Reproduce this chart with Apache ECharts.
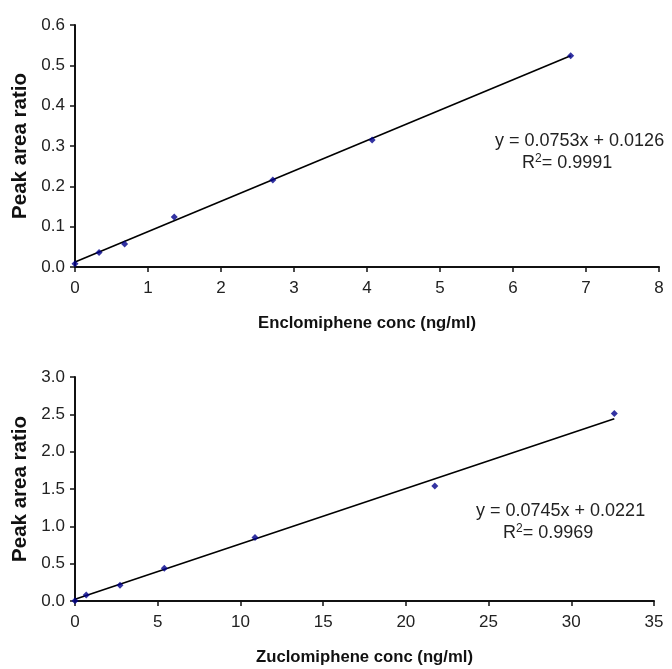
<!DOCTYPE html>
<html><head><meta charset="utf-8">
<script src="https://cdn.jsdelivr.net/npm/echarts@6/dist/echarts.min.js"></script>
<style>html,body{margin:0;padding:0;background:#fff}#c{width:672px;height:669px}</style>
</head><body><div id="c"></div>
<script>
// Top chart: Enclomiphene
const enX = [0, 0.33, 0.68, 1.36, 2.71, 4.07, 6.79];
const enY = [0.008, 0.036, 0.057, 0.124, 0.216, 0.315, 0.524];
const enTrendX = [0, 6.79];
const enTrendY = [0.0126, 0.524];
const enEq = 'y = 0.0753x + 0.0126';
const enR2 = '0.9991';
const enXTicks = [0, 1, 2, 3, 4, 5, 6, 7, 8];
const enYTicks = [0.0, 0.1, 0.2, 0.3, 0.4, 0.5, 0.6];

// Bottom chart: Zuclomiphene
const zuX = [0, 0.68, 2.72, 5.4, 10.88, 21.75, 32.6];
const zuY = [0.005, 0.08, 0.21, 0.437, 0.85, 1.54, 2.51];
const zuTrendX = [0, 32.6];
const zuTrendY = [0.0221, 2.44];
const zuEq = 'y = 0.0745x + 0.0221';
const zuR2 = '0.9969';
const zuXTicks = [0, 5, 10, 15, 20, 25, 30, 35];
const zuYTicks = [0.0, 0.5, 1.0, 1.5, 2.0, 2.5, 3.0];

const FONT = 'Liberation Sans, Arial, sans-serif';
const chart = echarts.init(document.getElementById('c'), null, {renderer: 'canvas'});

function xAxis(idx, ticks, name, gap) {
  return {
    type: 'value', gridIndex: idx, min: ticks[0], max: ticks[ticks.length - 1],
    interval: ticks[1] - ticks[0],
    name: name, nameLocation: 'middle', nameGap: gap,
    nameTextStyle: {fontFamily: FONT, fontSize: 16.7, fontWeight: 'bold', color: '#111'},
    axisLine: {show: true, onZero: false, lineStyle: {color: '#111', width: 2}},
    axisTick: {show: true, inside: false, length: 5, lineStyle: {color: '#111', width: 1.5}},
    axisLabel: {fontFamily: FONT, fontSize: 17, color: '#222', margin: 13},
    splitLine: {show: false}
  };
}
function yAxis(idx, ticks, name) {
  return {
    type: 'value', gridIndex: idx, min: ticks[0], max: ticks[ticks.length - 1],
    interval: Math.round((ticks[1] - ticks[0]) * 10) / 10,
    name: name, nameLocation: 'middle', nameGap: 43, nameRotate: 90,
    nameTextStyle: {fontFamily: FONT, fontSize: 20.5, fontWeight: 'bold', color: '#111'},
    axisLine: {show: true, onZero: false, lineStyle: {color: '#111', width: 2}},
    axisTick: {show: true, inside: false, length: 5, lineStyle: {color: '#111', width: 1.5}},
    axisLabel: {fontFamily: FONT, fontSize: 17, color: '#222', margin: 10,
      formatter: v => v.toFixed(1)},
    splitLine: {show: false}
  };
}
function zip(a, b) { return a.map((v, i) => [v, b[i]]); }

function eqText(left, cy, eq, r2, r2left) {
  return [
    {type: 'text', left: left, top: cy - 10, style: {text: eq, font: '18px ' + FONT, fill: '#222'}},
    {type: 'text', left: r2left, top: cy + 11, style: {
      text: 'R{s|2}= ' + r2, font: '18px ' + FONT, fill: '#222',
      rich: {s: {fontSize: 12, verticalAlign: 'top', padding: [0, 0, 8, 0], fontFamily: FONT}}
    }}
  ];
}

chart.setOption({
  backgroundColor: '#fff',
  animation: false,
  grid: [
    {left: 75, right: 13, top: 25, height: 242},
    {left: 75, right: 18, top: 377, height: 224}
  ],
  xAxis: [xAxis(0, enXTicks, 'Enclomiphene conc (ng/ml)', 48), xAxis(1, zuXTicks, 'Zuclomiphene conc (ng/ml)', 48)],
  yAxis: [yAxis(0, enYTicks, 'Peak area ratio'), yAxis(1, zuYTicks, 'Peak area ratio')],
  series: [
    {type: 'line', xAxisIndex: 0, yAxisIndex: 0, data: zip(enTrendX, enTrendY), symbol: 'none',
     lineStyle: {color: '#000', width: 1.6}, z: 2},
    {type: 'scatter', xAxisIndex: 0, yAxisIndex: 0, data: zip(enX, enY), symbol: 'diamond',
     symbolSize: 7, itemStyle: {color: '#00008b'}, z: 3},
    {type: 'line', xAxisIndex: 1, yAxisIndex: 1, data: zip(zuTrendX, zuTrendY), symbol: 'none',
     lineStyle: {color: '#000', width: 1.6}, z: 2},
    {type: 'scatter', xAxisIndex: 1, yAxisIndex: 1, data: zip(zuX, zuY), symbol: 'diamond',
     symbolSize: 7, itemStyle: {color: '#00008b'}, z: 3}
  ],
  graphic: [
    ...eqText(495, 142, enEq, enR2, 522),
    ...eqText(476, 512, zuEq, zuR2, 503)
  ]
});
</script></body></html>
